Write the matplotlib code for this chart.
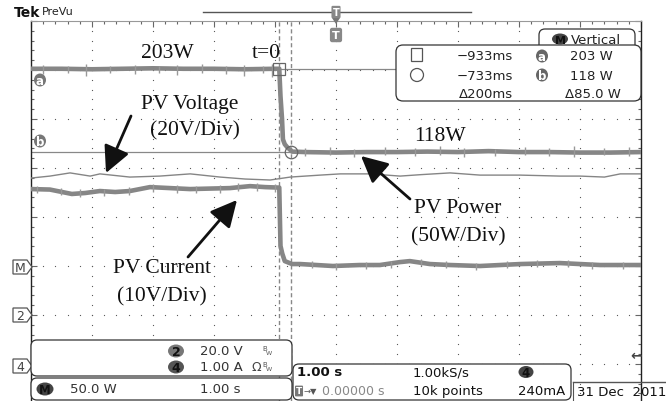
import matplotlib
matplotlib.use('Agg')
import matplotlib.pyplot as plt
from matplotlib.patches import FancyBboxPatch, Ellipse, Polygon
import numpy as np

# ---- traces (time in s, 1 s/div, trigger at centre) ----
# PV power, math channel M, 50 W/div
t_power = [-5.0, -4.5, -4.0, -3.5, -3.0, -2.5, -2.0, -1.5, -1.0, -0.93,
           -0.91, -0.885, -0.87, -0.84, -0.80, -0.72, -0.5, 0.0, 0.5, 1.0,
           1.5, 2.0, 2.5, 3.0, 3.5, 4.0, 4.5, 5.0]
p_power = [203, 203, 202.5, 203, 203.5, 203, 203, 202.5, 203, 203,
           175, 152, 131, 126, 123, 118.5, 118, 117.5, 118, 118,
           118.5, 118, 119, 118, 118, 117.5, 117.5, 118]
# noise spikes on the power trace (time, low, high in W)
spk_p_t = [-4.8, -4.4, -4.1, -3.7, -3.3, -2.9, -2.6, -2.2, -1.8, -1.5, -1.2,
           -1.05, -0.5, -0.1, 0.3, 0.8, 1.3, 1.7, 2.1, 2.6, 3.1, 3.5, 3.9,
           4.4, 4.8]
spk_p_lo = [198, 199, 196, 199, 198, 199, 197, 199, 198, 196, 199, 195,
            114, 115, 113, 115, 114, 115, 113, 114, 115, 114, 113, 115, 114]
spk_p_hi = [207, 206, 208, 206, 207, 206, 207, 208, 206, 207, 206, 208,
            122, 123, 121, 123, 122, 124, 122, 121, 123, 122, 124, 122, 123]

# PV voltage, channel 2, 20 V/div
t_volt = [-5.0, -4.69, -4.36, -4.03, -3.87, -3.38, -2.89, -2.39, -1.90, -1.49,
          -1.08, -0.75, -0.26, 0.07, 0.56, 1.05, 1.40, 1.87, 2.36, 3.02,
          3.67, 4.00, 4.40, 4.66, 5.0]
v_volt = [55.9, 56.7, 58.0, 56.7, 57.6, 56.3, 56.7, 57.6, 56.3, 55.5,
          55.1, 56.3, 57.1, 57.6, 57.6, 56.7, 57.3, 58.0, 57.1, 57.1,
          56.7, 56.7, 56.3, 57.6, 57.6]

# PV current, channel 4, 1 A/div
t_curr = [-5.0, -4.69, -4.49, -4.33, -4.11, -3.87, -3.62, -3.38, -3.05, -2.72,
          -2.39, -2.07, -1.74, -1.41, -1.16, -0.93, -0.91, -0.88, -0.84, -0.72,
          -0.59, -0.05, 0.39, 0.72, 1.05, 1.21, 1.54, 1.87, 2.36, 3.02,
          3.67, 4.33, 5.0]
a_curr = [3.57, 3.56, 3.51, 3.47, 3.49, 3.53, 3.51, 3.53, 3.61, 3.59,
          3.57, 3.58, 3.59, 3.63, 3.61, 3.60, 2.41, 2.25, 2.10, 2.04,
          2.04, 2.00, 2.02, 2.02, 2.08, 2.10, 2.04, 2.02, 2.00, 2.04,
          2.06, 2.02, 2.02]
spk_c_t = [-4.9, -4.5, -4.2, -3.8, -3.4, -3.0, -2.6, -2.3, -1.9, -1.6, -1.3,
           -1.0, -0.4, 0.0, 0.5, 0.9, 1.4, 1.8, 2.3, 2.8, 3.3, 3.8, 4.2, 4.7]
spk_c_lo = [3.49, 3.44, 3.40, 3.42, 3.45, 3.52, 3.49, 3.49, 3.50, 3.53, 3.53,
            3.52, 1.96, 1.92, 1.94, 1.96, 1.99, 1.95, 1.92, 1.96, 1.97, 1.97,
            1.94, 1.94]
spk_c_hi = [3.64, 3.60, 3.57, 3.57, 3.61, 3.68, 3.65, 3.64, 3.66, 3.69, 3.70,
            3.67, 2.11, 2.07, 2.09, 2.11, 2.15, 2.10, 2.07, 2.11, 2.12, 2.12,
            2.09, 2.09]

# cursors
cur_t = [-0.933, -0.733]
cur_w = [203, 118]

# scale / ground position (divisions)
P_SCALE, P_OFF = 50.0, -1.035
V_SCALE, V_OFF = 20.0, -2.0
I_SCALE, I_OFF = 1.0, -3.0

W, H = 666, 402
fig = plt.figure(figsize=(W / 100, H / 100), dpi=100)
fig.patch.set_facecolor('white')

ax = fig.add_axes([31 / W, 0, 610 / W, 380 / H])
ax.set_xlim(-5, 5)
ax.set_ylim(-3.755, 4)
ax.set_facecolor('white')
for s in ['left', 'right']:
    ax.spines[s].set_color('#222')
    ax.spines[s].set_linewidth(1.0)
ax.spines['top'].set_color('#999')
ax.spines['top'].set_linewidth(0.8)
ax.spines['bottom'].set_visible(False)
ax.set_xticks(np.arange(-5, 5.01, 1))
ax.set_xticks(np.arange(-5, 5.01, 0.2), minor=True)
ax.set_yticks(np.arange(-3, 4.01, 1))
ax.set_yticks(np.arange(-3.6, 4.01, 0.2), minor=True)
ax.tick_params(which='both', direction='in', top=True, bottom=False,
               left=True, right=True, labelleft=False, labelbottom=False,
               color='#666', width=0.8)
ax.tick_params(which='major', length=4)
ax.tick_params(which='minor', length=2.5)

# dotted graticule
gx, gy = [], []
for xv in range(-4, 5):
    for yv in np.arange(-3.6, 4.0, 0.2):
        gx.append(xv); gy.append(yv)
for yv in range(-3, 4):
    for xv in np.arange(-4.8, 5.0, 0.2):
        gx.append(xv); gy.append(yv)
ax.scatter(gx, gy, s=0.8, color='#555', linewidths=0, zorder=1)

# cursors
for t in cur_t:
    ax.axvline(t, color='#888', lw=1.0, ls=(0, (3, 2)), zorder=2)
for w in cur_w:
    ax.axhline(w / P_SCALE + P_OFF, color='#888', lw=0.9, zorder=2)

# traces
TR = '#868686'
pw = [v / P_SCALE + P_OFF for v in p_power]
cu = [v / I_SCALE + I_OFF for v in a_curr]
vo = [v / V_SCALE + V_OFF for v in v_volt]
ax.plot(t_power, pw, color=TR, lw=3.3, zorder=3)
ax.plot(t_curr, cu, color=TR, lw=3.3, zorder=3)
ax.vlines(spk_p_t, [v / P_SCALE + P_OFF for v in spk_p_lo],
          [v / P_SCALE + P_OFF for v in spk_p_hi], color='#999', lw=1.0,
          zorder=3)
ax.vlines(spk_c_t, [v / I_SCALE + I_OFF for v in spk_c_lo],
          [v / I_SCALE + I_OFF for v in spk_c_hi], color='#999', lw=1.0,
          zorder=3)
ax.plot(t_volt, vo, color='#858585', lw=1.0, zorder=3)

ax.plot(cur_t[0], cur_w[0] / P_SCALE + P_OFF, marker='s', ms=8, mfc='none',
        mec='#666', mew=0.9, zorder=4)
ax.plot(cur_t[1], cur_w[1] / P_SCALE + P_OFF, marker='o', ms=9, mfc='none',
        mec='#666', mew=0.9, zorder=4)

# ---- overlay in pixel coordinates ----
axp = fig.add_axes([0, 0, 1, 1])
axp.set_xlim(0, W)
axp.set_ylim(H, 0)
axp.axis('off')

TEK = 'DejaVu Sans'
SERIF = 'Liberation Serif'


def box(x0, y0, x1, y1, r=6, lw=1.0, ec='#333'):
    axp.add_patch(FancyBboxPatch((x0, y0), x1 - x0, y1 - y0,
                                 boxstyle='round,pad=0,rounding_size=%g' % r,
                                 fc='white', ec=ec, lw=lw, zorder=5))


def badge(x, y, s, fc='#666', tc='white', w=12, h=13, fs=8.5):
    axp.add_patch(Ellipse((x, y), w, h, fc=fc, ec='none', zorder=6))
    axp.text(x, y + 0.5, s, color=tc, fontsize=fs, ha='center', va='center',
             family=TEK, fontweight='bold', zorder=7)


def txt(x, y, s, fs=9, ha='left', c='#222', **kw):
    axp.text(x, y, s, fontsize=fs, ha=ha, va='center', color=c, family=TEK,
             zorder=7, **kw)


# header
axp.text(14, 13, 'Tek', fontsize=10, fontweight='bold', family=TEK,
         va='center', ha='left', color='#111')
axp.text(42, 12, 'PreVu', fontsize=8, family=TEK, va='center', color='#222')
axp.plot([203, 471], [13, 13], color='#555', lw=1.0)
axp.text(336, 13, 'T', fontsize=7, family=TEK, ha='center', va='center',
         color='white', fontweight='bold',
         bbox=dict(boxstyle='round,pad=0.12', fc='#888', ec='none'))
axp.add_patch(Polygon([[332, 19], [340, 19], [336, 25]], closed=True,
                      fc='#777', ec='none'))
axp.text(336, 36, 'T', fontsize=8, family=TEK, ha='center', va='center',
         color='white', fontweight='bold',
         bbox=dict(boxstyle='round,pad=0.2', fc='#888', ec='none'))

# left channel markers
badge(40, 81, 'a', fc='#777')
badge(40, 142, 'b', fc='#777')
for lab, yy in [('M', 268), ('2', 316), ('4', 367)]:
    axp.add_patch(Polygon([[13, yy - 7], [27, yy - 7], [32, yy], [27, yy + 7],
                           [13, yy + 7]], closed=True, fc='white', ec='#555',
                          lw=0.9, zorder=5))
    axp.text(20, yy + 0.5, lab, fontsize=9, family=TEK, ha='center',
             va='center', color='#444', zorder=6)
axp.text(636, 356, '\u2190', fontsize=10, family=TEK, ha='center',
         va='center', color='#444', fontweight='bold')

# cursor read-out
box(539, 30, 635, 56, r=6, lw=0.9)
badge(560, 40, 'M', fc='#444', tc='#111', w=16, h=11, fs=8)
txt(571, 40, 'Vertical', fs=9.5)
box(396, 46, 641, 102, r=7, lw=0.9)
axp.add_patch(plt.Rectangle((411, 49), 11, 13, fc='none', ec='#555', lw=0.9,
                            zorder=6))
axp.add_patch(Ellipse((417, 76), 13, 13, fc='none', ec='#555', lw=0.9,
                      zorder=6))
txt(513, 57, '\u2212933ms', ha='right', fs=9.5)
txt(513, 76, '\u2212733ms', ha='right', fs=9.5)
txt(513, 94, '\u0394200ms', ha='right', fs=9.5)
badge(542, 57, 'a', fc='#666')
badge(542, 76, 'b', fc='#666')
txt(613, 57, '203 W', ha='right', fs=9.5)
txt(613, 76, '118 W', ha='right', fs=9.5)
txt(621, 94, '\u039485.0 W', ha='right', fs=9.5)

# bottom status boxes
box(31, 341, 292, 377, r=6, lw=0.9)
badge(176, 352, '2', fc='#777', tc='#111', w=16, h=13, fs=9)
txt(200, 352, '20.0 V', fs=9.5, c='#333')
txt(262, 349, 'B', fs=5, c='#555')
txt(266, 354, 'W', fs=4.5, c='#555')
badge(176, 368, '4', fc='#555', tc='#111', w=16, h=13, fs=9)
txt(200, 368, '1.00 A', fs=9.5, c='#333')
txt(251, 368, '\u03a9', fs=9, c='#444')
txt(262, 365, 'B', fs=5, c='#555')
txt(266, 370, 'W', fs=4.5, c='#555')

box(31, 379, 292, 401, r=6, lw=0.9)
badge(45, 390, 'M', fc='#444', tc='#111', w=17, h=13, fs=8.5)
txt(70, 390, '50.0 W', fs=9.5, c='#333')
txt(200, 390, '1.00 s', fs=9.5, c='#333')

box(293, 365, 571, 401, r=6, lw=0.9)
txt(297, 373, '1.00 s', fs=9.5, c='#111', fontweight='bold')
txt(413, 373, '1.00kS/s', fs=9.5, c='#111')
badge(526, 373, '4', fc='#444', tc='#111', w=15, h=12, fs=8.5)
axp.plot([541, 545, 547, 551], [378, 378, 368, 368], color='#111', lw=1.4)
axp.text(299, 392, 'T', fontsize=6.5, family=TEK, ha='center', va='center',
         color='white', fontweight='bold',
         bbox=dict(boxstyle='round,pad=0.1', fc='#777', ec='none'), zorder=7)
txt(304, 392, '\u2192\u25bc', fs=6, c='#555')
txt(322, 392, '0.00000 s', fs=9, c='#888')
txt(413, 392, '10k points', fs=9.5, c='#111')
txt(565, 392, '240mA', fs=9.5, c='#111', ha='right')

axp.plot([573, 666], [383, 383], color='#555', lw=1.0)
axp.plot([573, 573], [383, 402], color='#555', lw=0.8)
txt(577, 393, '31 Dec  2011', fs=9.5, c='#111')

# annotations
for s, x, y in [('203W', 167, 53), ('t=0', 266, 53),
                ('PV Voltage', 190, 104), ('(20V/Div)', 195, 131),
                ('118W', 440, 137), ('PV Power', 458, 209),
                ('(50W/Div)', 458, 237), ('PV Current', 162, 269),
                ('(10V/Div)', 162, 297)]:
    axp.text(x, y, s, fontsize=15.5, family=SERIF, ha='center', va='center',
             color='#111', zorder=8)

for tail, head in [((131, 117), (106, 174)), ((410, 200), (361, 157)),
                   ((188, 258), (237, 201))]:
    axp.annotate('', xy=head, xytext=tail, zorder=8,
                 arrowprops=dict(arrowstyle='-|>,head_length=0.9,head_width=0.45',
                                 mutation_scale=18, lw=2.0, color='#111',
                                 shrinkA=0, shrinkB=0))

fig.savefig('out.png', dpi=100)
